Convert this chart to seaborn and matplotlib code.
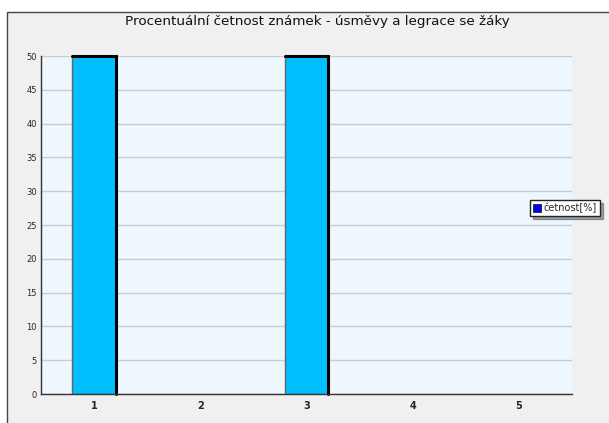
import numpy as np
import pandas as pd
import matplotlib
matplotlib.use("Agg")
import matplotlib.pyplot as plt
import seaborn as sns
from matplotlib.patches import Rectangle, Patch
from matplotlib.ticker import MultipleLocator, FixedLocator

# data
grades = ["1", "2", "3", "4", "5"]
percent = [50, 0, 50, 0, 0]
title = "Procentuální četnost známek - úsměvy a legrace se žáky"
legend_label = "četnost[%]"

df = pd.DataFrame({"znamka": grades, "cetnost": percent})

sns.set_style("white")
plt.rcParams["font.family"] = ["DejaVu Sans"]

fig = plt.figure(figsize=(6.09, 4.23), dpi=100, facecolor="white")

# gray panel behind the chart
panel = Rectangle((7 / 609, -0.1), 1.2, 1.1 - 12 / 423, transform=fig.transFigure,
                  facecolor="#f0f0f0", edgecolor="#444444", linewidth=1, zorder=-10)
fig.patches.append(panel)

ax = fig.add_axes([41 / 609, 1 - 394 / 423, (572 - 41) / 609, (394 - 56) / 423])
ax.set_facecolor("#eef6fe")

sns.barplot(data=df, x="znamka", y="cetnost", color="#00bfff", width=0.41,
            saturation=1, edgecolor="#666666", linewidth=1, ax=ax, zorder=3)

# shaded right / top edge like the original 3D-ish bars
for p in ax.patches:
    h = p.get_height()
    if h <= 0:
        p.set_linewidth(0)
        continue
    x0, x1 = p.get_x(), p.get_x() + p.get_width()
    ax.plot([x0, x1, x1], [h, h, 0], color="black", linewidth=2.2,
            solid_joinstyle="miter", zorder=4, clip_on=False)

ax.set_xlim(-0.5, 4.5)
ax.set_ylim(0, 50)
ax.yaxis.set_major_locator(MultipleLocator(5))
ax.yaxis.set_minor_locator(MultipleLocator(1))
ax.xaxis.set_minor_locator(FixedLocator(np.arange(0.5, 5, 1)))
ax.grid(axis="y", which="major", color="#cccccc", linewidth=1, zorder=0)
ax.set_axisbelow(True)

for s in ["top", "right"]:
    ax.spines[s].set_visible(False)
for s in ["left", "bottom"]:
    ax.spines[s].set_color("#333333")
    ax.spines[s].set_linewidth(1)
    ax.spines[s].set_zorder(5)

ax.tick_params(axis="y", which="major", direction="in", length=4, labelsize=6, pad=3, color="#222222")
ax.tick_params(axis="y", which="minor", direction="in", length=2.5, color="#222222")
ax.tick_params(axis="x", which="major", length=0, labelsize=7, pad=5)
ax.tick_params(axis="x", which="minor", direction="in", length=3, color="#444444")
for lbl in ax.get_xticklabels():
    lbl.set_fontweight("bold")
ax.set_xlabel("")
ax.set_ylabel("")

fig.text(0.521, 1 - 22 / 423, title, ha="center", va="center", fontsize=9.7, color="#111111")

handle = Patch(facecolor="#0000ff", edgecolor="#222222", linewidth=0.6)
fig.legend([handle], [legend_label], loc="center left",
           bbox_to_anchor=(530 / 609, 1 - 208 / 423), fontsize=7, frameon=True,
           fancybox=False, shadow=True, edgecolor="#222222", framealpha=1,
           borderpad=0.3, handlelength=0.8, handleheight=0.8, handletextpad=0.3,
           borderaxespad=0)

fig.savefig("out.png", dpi=100, facecolor="white")
